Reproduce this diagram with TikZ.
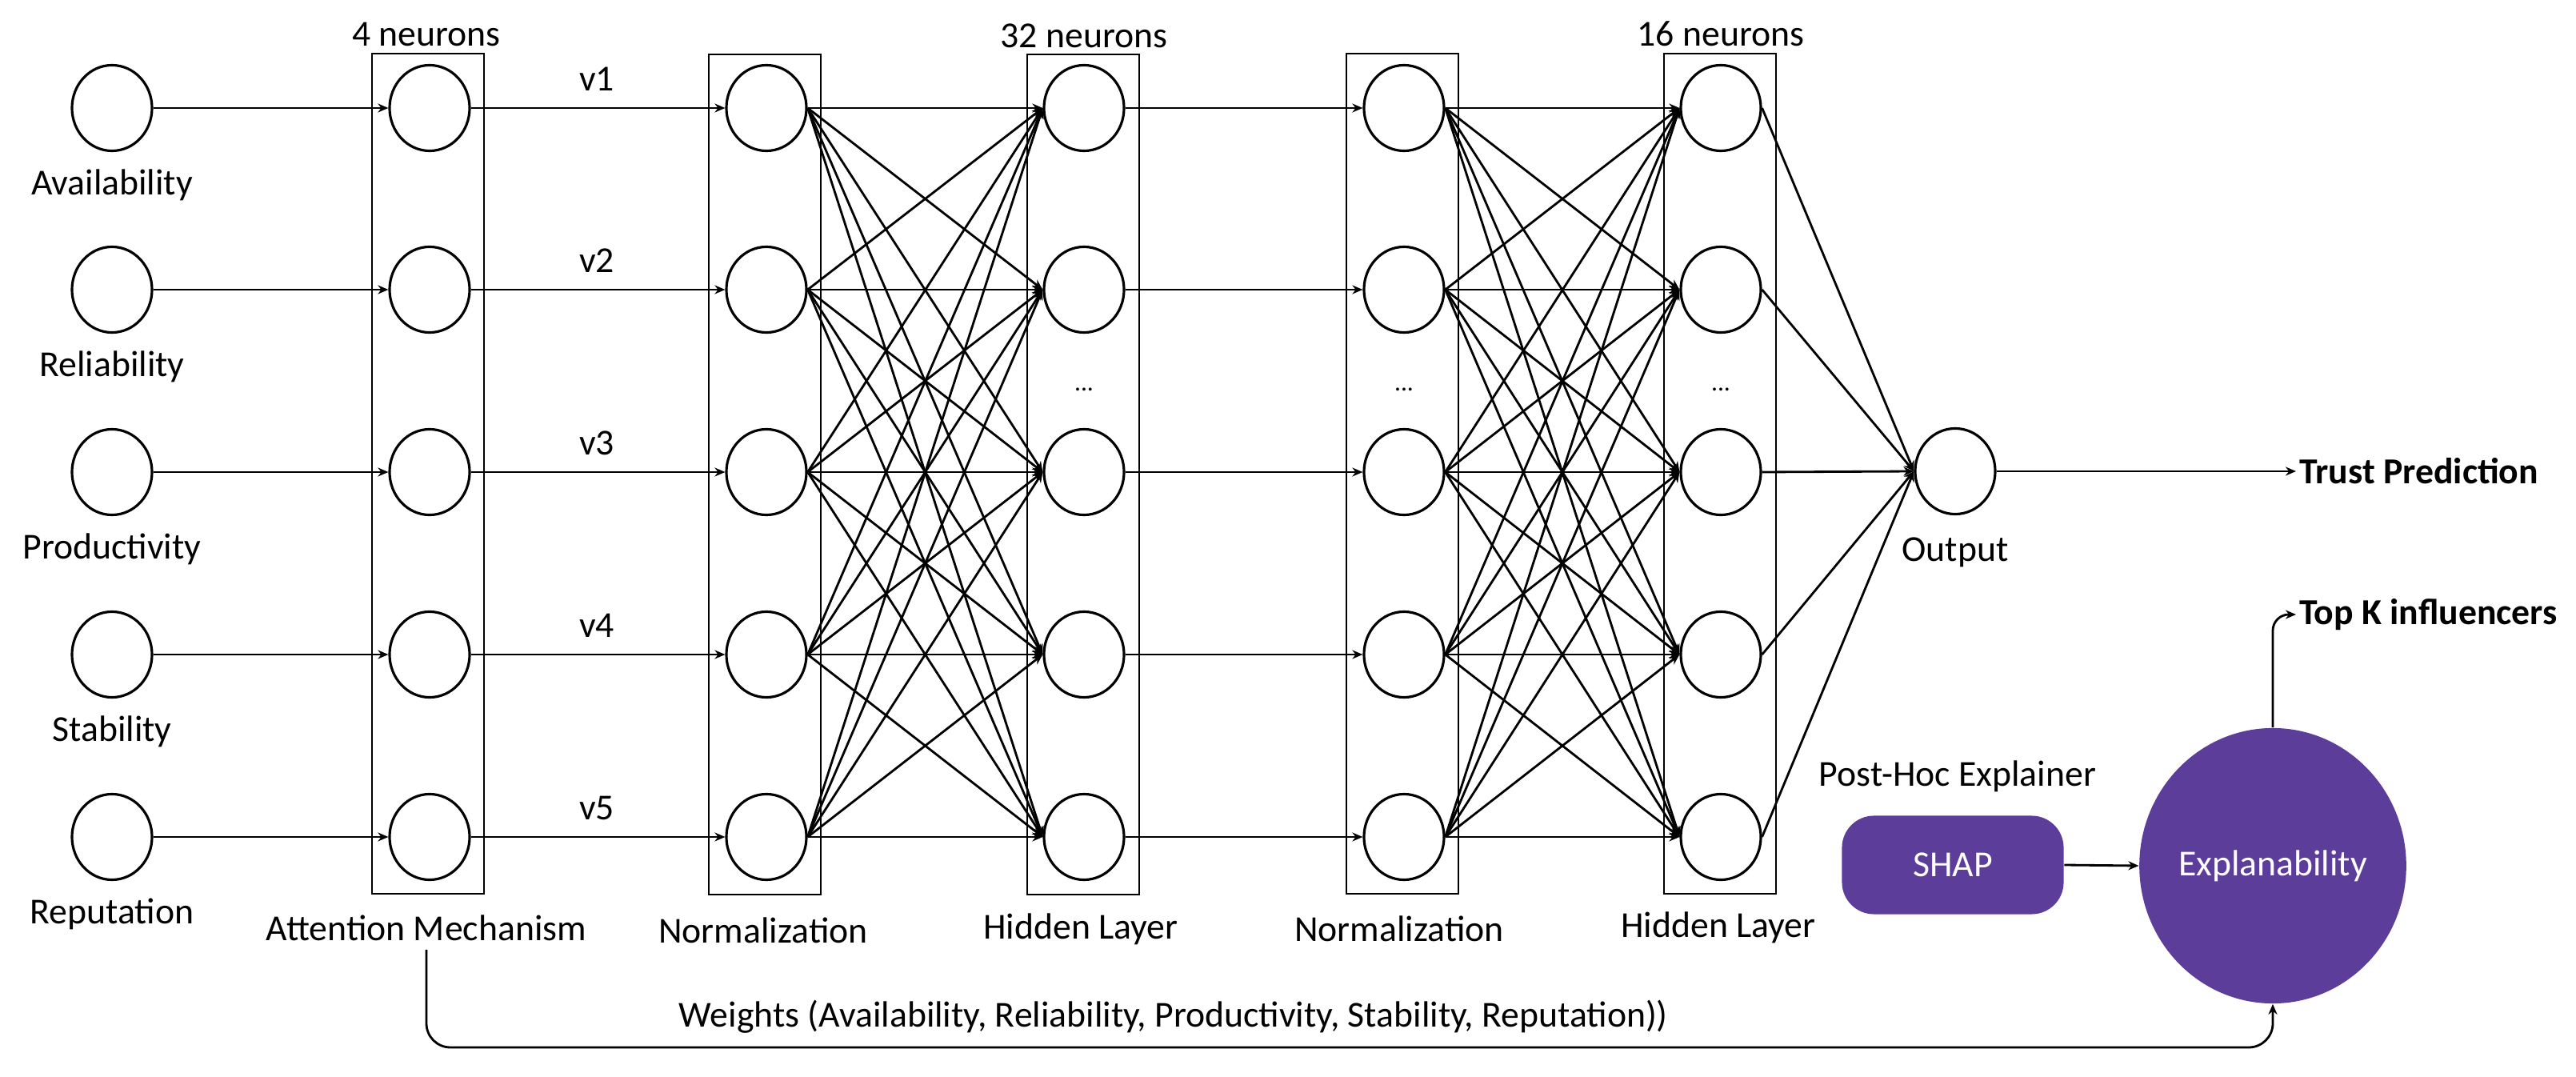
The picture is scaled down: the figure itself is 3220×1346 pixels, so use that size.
\documentclass[tikz,border=0pt]{standalone}
\usepackage{fontspec}
\setmainfont{Carlito}
\usetikzlibrary{shapes.geometric,arrows.meta}
\definecolor{shappurple}{HTML}{5C3D99}
\begin{document}
\begin{tikzpicture}[x=0.01cm,y=-0.01cm,
  neuron/.style={draw, ellipse, line width=0.9pt, minimum width=1cm, minimum height=1.07cm, inner sep=0},
  layerbox/.style={draw, line width=0.6pt, minimum width=1.4cm, minimum height=10.5cm, inner sep=0},
  lbl/.style={font=\fontsize{13}{15}\selectfont, inner sep=0},
  blbl/.style={font=\fontsize{13}{15}\selectfont\bfseries, inner sep=1pt, anchor=west},
  conn/.style={line width=0.8pt, -{Stealth[length=1.3mm,width=1.1mm]}},
  plainline/.style={line width=0.8pt},
  purplefill/.style={fill=shappurple, draw=none, text=white, font=\fontsize{13}{15}\selectfont, inner sep=0},
]
\useasboundingbox (0,0) rectangle (3220,1346);

% layer boxes
\node[layerbox] (boxatt) at (535,592) {};
\node[layerbox] (boxnA) at (956,593) {};
\node[layerbox] (boxhA) at (1354,593) {};
\node[layerbox] (boxnB) at (1753,592) {};
\node[layerbox] (boxhB) at (2150,592) {};

% neurons
\foreach \i/\y in {1/135,2/362,3/590,4/818,5/1046}{
  \node[neuron] (in\i) at (140,\y) {};
  \node[neuron] (att\i) at (537,\y) {};
  \node[neuron] (nA\i) at (958,\y) {};
  \node[neuron] (hA\i) at (1355,\y) {};
  \node[neuron] (nB\i) at (1755,\y) {};
  \node[neuron] (hB\i) at (2151,\y) {};
  \node[lbl] (v\i) at (746,\y-36) {v\i};
}
\node[neuron] (out) at (2444,589) {};

% input labels
\foreach \i/\y/\t in {1/231/Availability,2/458/Reliability,3/686/Productivity,4/914/Stability,5/1142/Reputation}{
  \node[lbl] (lin\i) at (140,\y) {\t};
}

% top labels
\node[lbl] (n4) at (533,43) {4 neurons};
\node[lbl] (n32) at (1355,45) {32 neurons};
\node[lbl] (n16) at (2151,42) {16 neurons};

% dots
\node[lbl, font=\fontsize{9}{10}\selectfont] (dotsA) at (1355,487) {...};
\node[lbl, font=\fontsize{9}{10}\selectfont] (dotsB) at (1755,487) {...};
\node[lbl, font=\fontsize{9}{10}\selectfont] (dotsC) at (2151,487) {...};

% bottom labels
\node[lbl] (attlbl) at (533,1160) {Attention Mechanism};
\node[lbl] (nAlbl) at (954,1163) {Normalization};
\node[lbl] (hAlbl) at (1351,1161) {Hidden Layer};
\node[lbl] (nBlbl) at (1749,1161) {Normalization};
\node[lbl] (hBlbl) at (2148,1159) {Hidden Layer};
\node[lbl] (outlbl) at (2444,690) {Output};
\node[lbl] (phlbl) at (2447,970) {Post-Hoc Explainer};
\node[lbl] (wlbl) at (1467,1271) {Weights (Availability, Reliability, Productivity, Stability, Reputation))};

% explainer
\node[purplefill, rectangle, rounded corners=0.4cm, minimum width=2.77cm, minimum height=1.23cm] (shap) at (2441,1081) {SHAP};
\node[purplefill, ellipse, minimum width=3.26cm, minimum height=3.44cm] (expl) at (2841,1082) {Explanability};

% output labels
\node[blbl] (trust) at (2870,589) {Trust Prediction};
\node[blbl] (topk) at (2870,768) {Top K influencers};

% connections
\foreach \i in {1,...,5}{
  \draw[conn] (in\i.east) -- (att\i.west);
  \draw[conn] (att\i.east) -- (nA\i.west);
  \draw[conn] (hA\i.east) -- (nB\i.west);
  \draw[conn] (hB\i.east) -- (out.west);
  \foreach \j in {1,...,5}{
    \draw[conn] (nA\i.east) -- (hA\j.west);
    \draw[conn] (nB\i.east) -- (hB\j.west);
  }
}
\draw[conn] (out.east) -- (trust.west);
\draw[conn] (shap.east) -- (expl.west);
\draw[conn, rounded corners=0.2cm] (expl.north) |- (topk.west);
\coordinate (wy) at (0,1309);
\draw[conn, rounded corners=0.3cm] ([yshift=-1mm]attlbl.south) -- (attlbl.south |- wy) -- (expl.south |- wy) -- (expl.south);
\end{tikzpicture}
\end{document}
